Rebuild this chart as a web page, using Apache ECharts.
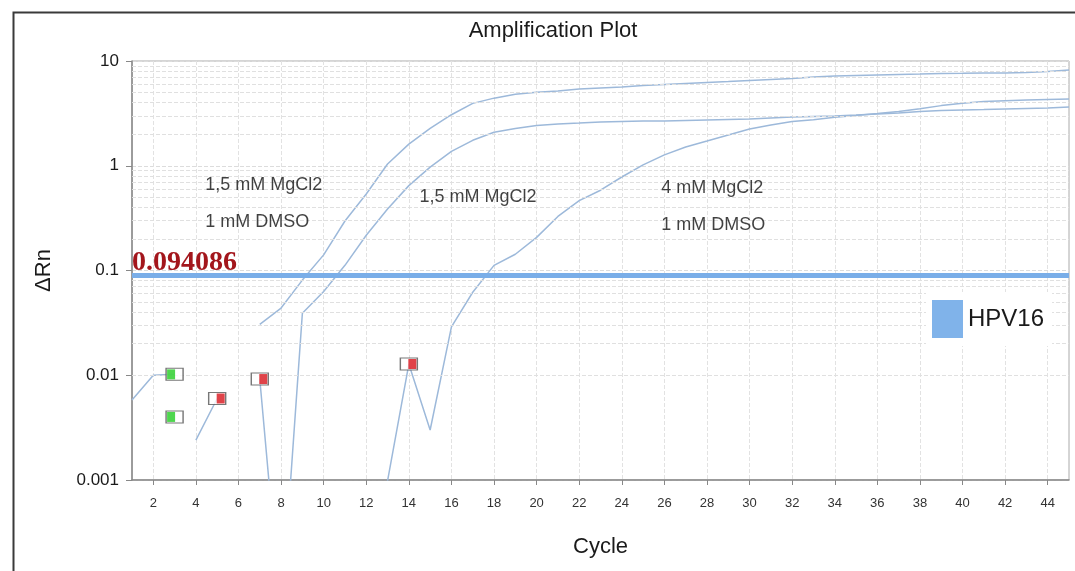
<!DOCTYPE html>
<html>
<head>
<meta charset="utf-8">
<script src="https://cdn.jsdelivr.net/npm/echarts@6/dist/echarts.min.js"></script>
<style>
html,body{margin:0;padding:0;background:#fff;}
#chart{width:1075px;height:571px;}
</style>
</head>
<body>
<div id="chart"></div>
<script>
// ---- data ----
var cycles = [];
for (var i = 1; i <= 45; i++) cycles.push(i);

var xTickLabels = [2,4,6,8,10,12,14,16,18,20,22,24,26,28,30,32,34,36,38,40,42,44];
var yTickLabels = ['0.001','0.01','0.1','1','10'];
var yMinorValues = [0.002,0.003,0.004,0.005,0.006,0.007,0.008,0.009,
                    0.02,0.03,0.04,0.05,0.06,0.07,0.08,0.09,
                    0.2,0.3,0.4,0.5,0.6,0.7,0.8,0.9,
                    2,3,4,5,6,7,8,9];

// well A: 1,5 mM MgCl2 + 1 mM DMSO (earliest)
var wellA = [null,null,null,0.0024,0.006,null,0.0306,0.0438,0.081,0.141,
             0.297,0.537,1.04,1.61,2.27,3.07,3.94,4.42,4.81,5.02,
             5.17,5.41,5.53,5.65,5.84,5.97,6.10,6.24,6.37,6.51,
             6.66,6.81,7.03,7.19,7.27,7.35,7.43,7.51,7.60,7.63,
             7.68,7.68,7.77,7.94,8.20];
// well B: 1,5 mM MgCl2
var wellB = [null,null,0.004,null,null,null,0.0092,0.00005,0.039,0.063,
             0.112,0.217,0.387,0.646,0.97,1.37,1.75,2.09,2.27,2.42,
             2.51,2.56,2.62,2.65,2.68,2.68,2.71,2.74,2.77,2.79,
             2.86,2.92,2.96,2.99,3.05,3.12,3.19,3.30,3.37,3.41,
             3.44,3.48,3.52,3.56,3.64];
// well C: 4 mM MgCl2 + 1 mM DMSO
var wellC = [0.0058,0.010,0.0102,null,null,null,null,null,null,null,
             null,null,0.00098,0.0128,0.003,0.0289,0.062,0.112,0.143,0.207,
             0.328,0.464,0.584,0.781,1.02,1.27,1.51,1.72,1.97,2.24,
             2.45,2.64,2.75,2.90,3.02,3.15,3.30,3.50,3.75,3.95,
             4.10,4.18,4.24,4.30,4.34];

var threshold = 0.094086;
var baselineStart = [['B',3],['C',3]];           // green markers
var baselineEnd = [['A',5],['B',7],['C',14]];    // red markers

var annotations = [
  {text:'1,5 mM MgCl2\n1 mM DMSO', x:4.44, y:0.436},
  {text:'1,5 mM MgCl2', x:14.5, y:0.503},
  {text:'4 mM MgCl2\n1 mM DMSO', x:25.85, y:0.404}
];

// ---- build ----
var wells = {A:wellA, B:wellB, C:wellC};
function pairs(arr){ return cycles.map(function(c,i){ return [c, arr[i]]; }); }
function markerPts(list){ return list.map(function(m){ return [m[1], wells[m[0]][m[1]-1]]; }); }

var lineColor = '#9db9da';
var sans = "'Liberation Sans',Arial,sans-serif";

function curve(arr){
  return {
    name:'HPV16', type:'line', data:pairs(arr), showSymbol:false, symbol:'none',
    connectNulls:false, lineStyle:{color:lineColor, width:1.5}, itemStyle:{color:lineColor},
    z:3, animation:false
  };
}

var chart = echarts.init(document.getElementById('chart'), null, {renderer:'canvas'});
var option = {
  animation:false,
  backgroundColor:'#ffffff',
  title:{text:'Amplification Plot', left:548, top:15, textAlign:'center',
         textStyle:{fontFamily:sans, fontSize:22, fontWeight:'normal', color:'#1a1a1a'}},
  grid:{left:132, right:6, top:61, bottom:91, show:true, borderColor:'#aaa', borderWidth:1, backgroundColor:'#fff'},
  legend:{show:true, left:926, top:292, orient:'vertical', backgroundColor:'#fff', padding:[8,8,8,6],
          itemWidth:31, itemHeight:38, itemGap:0, z:20,
          textStyle:{fontFamily:sans, fontSize:24, color:'#1a1a1a'},
          data:[{name:'HPV16', icon:'rect', itemStyle:{color:'#80b3ea', borderWidth:0, decal:'none'}, lineStyle:{width:0}}]},
  xAxis:{type:'value', min:1, max:45, interval:1,
         name:'Cycle', nameLocation:'middle', nameGap:56,
         nameTextStyle:{fontFamily:sans, fontSize:22, color:'#1a1a1a'},
         axisLine:{show:true, lineStyle:{color:'#888', width:1.5}},
         axisTick:{show:true, length:5, customValues:xTickLabels, lineStyle:{color:'#888'}},
         axisLabel:{customValues:xTickLabels, fontFamily:sans, fontSize:13, color:'#333', margin:17},
         splitLine:{show:true, lineStyle:{color:'#e2e2e2', type:'dashed', width:1}}},
  yAxis:{type:'log', logBase:10, min:0.001, max:10,
         name:'\u0394Rn', nameLocation:'middle', nameGap:77, nameRotate:90,
         nameTextStyle:{fontFamily:sans, fontSize:22, color:'#1a1a1a'},
         axisLine:{show:true, lineStyle:{color:'#888', width:1.5}},
         axisTick:{show:true, length:6, lineStyle:{color:'#888'}},
         axisLabel:{fontFamily:sans, fontSize:17, color:'#1a1a1a', margin:13,
           formatter:function(v){ var k=Math.round(Math.log10(v))+3; return yTickLabels[k]||''; }},
         splitLine:{show:true, lineStyle:{color:'#dcdcdc', type:'dashed', width:1}}},
  series:[
    { // minor log grid lines
      type:'line', data:[], silent:true, z:1,
      markLine:{silent:true, symbol:'none', animation:false, label:{show:false},
        lineStyle:{color:'#e0e0e0', type:'dashed', width:1},
        data:yMinorValues.map(function(v){ return {yAxis:v}; })}
    },
    curve(wellA), curve(wellB), curve(wellC),
    { // threshold line
      type:'line', data:[], z:4,
      markLine:{silent:true, symbol:'none', animation:false,
        lineStyle:{color:'#7aaee8', width:5, type:'solid'},
        label:{show:true, position:'insideStartTop', distance:[0,-1], formatter:String(threshold),
               fontFamily:"'Liberation Serif','Times New Roman',serif", fontSize:28, fontWeight:'bold', color:'#a3161c'},
        data:[{yAxis:threshold}]}
    },
    { // annotations
      type:'scatter', symbolSize:0, z:5, silent:true,
      data:annotations.map(function(a){ return {value:[a.x,a.y], label:{formatter:a.text}}; }),
      label:{show:true, position:'right', distance:0, align:'left', lineHeight:37,
             fontFamily:sans, fontSize:18, color:'#111'}
    },
    { // baseline markers (frame)
      type:'scatter', data:markerPts(baselineStart).concat(markerPts(baselineEnd)), z:6, silent:true,
      symbol:'rect', symbolSize:[17,12], itemStyle:{color:'#fff', borderColor:'#555', borderWidth:1.2}
    },
    { // green fill
      type:'scatter', data:markerPts(baselineStart), z:7, silent:true,
      symbol:'rect', symbolSize:[8,10], symbolOffset:[-3.5,0], itemStyle:{color:'#22cc22'}
    },
    { // red fill
      type:'scatter', data:markerPts(baselineEnd), z:7, silent:true,
      symbol:'rect', symbolSize:[8,10], symbolOffset:[3.5,0], itemStyle:{color:'#d8141c'}
    }
  ],
  graphic:[
    {type:'rect', left:11, top:10, shape:{width:1100, height:600},
     style:{fill:'none', stroke:'#3a3a3a', lineWidth:2}, z:100, silent:true}
  ]
};
chart.setOption(option);
</script>
</body>
</html>
